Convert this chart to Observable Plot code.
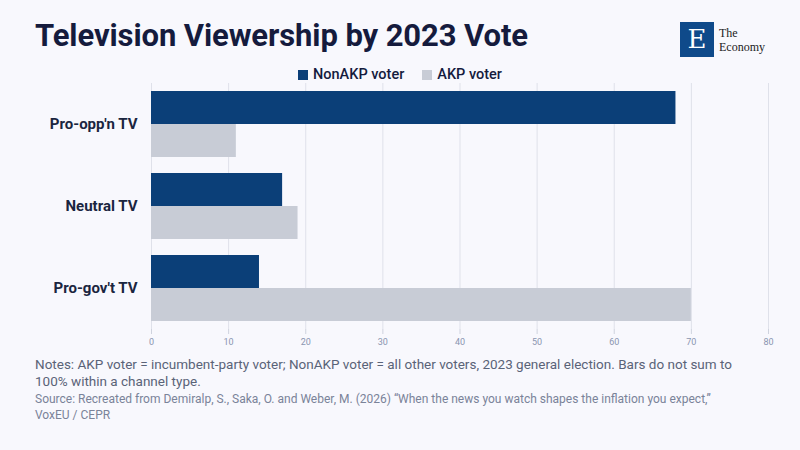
<!DOCTYPE html>
<html><head><meta charset="utf-8">
<script src="https://cdn.jsdelivr.net/npm/d3@7"></script>
<script src="https://cdn.jsdelivr.net/npm/@observablehq/plot@0.6"></script>
<style>
body{margin:0;background:#f8f8fd;font-family:Roboto,"Noto Sans",sans-serif;}
#wrap{position:relative;width:800px;height:450px;overflow:hidden;background:#f8f8fd;}
#title{position:absolute;left:35px;top:17px;font-size:31px;font-weight:700;color:#151b3d;letter-spacing:-0.1px;}
#logo{position:absolute;left:680px;top:22px;display:flex;align-items:center;}
#logo .b{width:34px;height:35px;background:#0f4a8a;color:#fff;font-family:"DejaVu Serif",serif;font-size:26px;text-align:center;line-height:35px;}
#logo .t{margin-left:5px;font-family:"Liberation Serif",serif;font-size:12px;line-height:14px;color:#222;}
#legend{position:absolute;left:0;width:800px;top:66px;text-align:center;font-size:14.5px;font-weight:500;color:#151b3d;}
#legend span.sw{display:inline-block;width:10px;height:10px;margin-right:5px;vertical-align:-1px;}
#chart{position:absolute;left:0;top:80px;}
#notes{position:absolute;left:35px;top:356px;width:725px;font-size:13.5px;line-height:17px;color:#5a6378;}
#src{position:absolute;left:35px;top:391px;width:700px;font-size:12px;line-height:16px;color:#7a8399;}
</style></head>
<body><div id="wrap">
<div id="title">Television Viewership by 2023 Vote</div>
<div id="logo"><div class="b">E</div><div class="t">The<br>Economy</div></div>
<div id="legend"></div>
<div id="chart"></div>
<div id="notes">Notes: AKP voter = incumbent-party voter; NonAKP voter = all other voters, 2023 general election. Bars do not sum to 100% within a channel type.</div>
<div id="src">Source: Recreated from Demiralp, S., Saka, O. and Weber, M. (2026) “When the news you watch shapes the inflation you expect,” VoxEU / CEPR</div>
</div>
<script>
const categories = ["Pro-opp'n TV", "Neutral TV", "Pro-gov't TV"];
const series = ["NonAKP voter", "AKP voter"];
const colors = ["#0b3f78", "#c8ccd6"];
const nonAkp = [68, 17, 14];
const akp = [11, 19, 70];
const xTicks = [0, 10, 20, 30, 40, 50, 60, 70, 80];

const data = [];
categories.forEach((c, i) => {
  data.push({cat: c, s: series[0], v: nonAkp[i]});
  data.push({cat: c, s: series[1], v: akp[i]});
});

document.getElementById("legend").innerHTML = series.map((s, i) =>
  `<span style="margin:0 9px"><span class="sw" style="background:${colors[i]}"></span>${s}</span>`).join("");

const plot = Plot.plot({
  width: 800, height: 277,
  marginLeft: 151, marginRight: 32, marginTop: 2, marginBottom: 28,
  style: {background: "transparent", fontFamily: "Roboto, sans-serif"},
  x: {domain: [0, 80], ticks: xTicks, grid: true, label: null, tickSize: 5},
  y: {domain: series, axis: null, paddingInner: 0, paddingOuter: 0.24},
  fy: {domain: categories, padding: 0, label: null, tickSize: 0, tickPadding: 14},
  color: {domain: series, range: colors},
  marks: [
    Plot.barX(data, {x: "v", y: "s", fy: "cat", fill: "s"})
  ]
});
d3.select(plot).selectAll("[aria-label='x-grid'] line").attr("stroke", "#dfe1ea").attr("stroke-opacity", 1);
d3.select(plot).selectAll("[aria-label='x-axis tick'] path").attr("stroke", "#cfd3de");
d3.select(plot).selectAll("[aria-label='x-axis tick label']").attr("fill", "#8a95b0").attr("font-size", 9);
d3.select(plot).selectAll("[aria-label='fy-axis tick label']").attr("font-size", 15).attr("font-weight", 700).attr("fill", "#1a2540");
document.getElementById("chart").appendChild(plot);
</script>
</body></html>
